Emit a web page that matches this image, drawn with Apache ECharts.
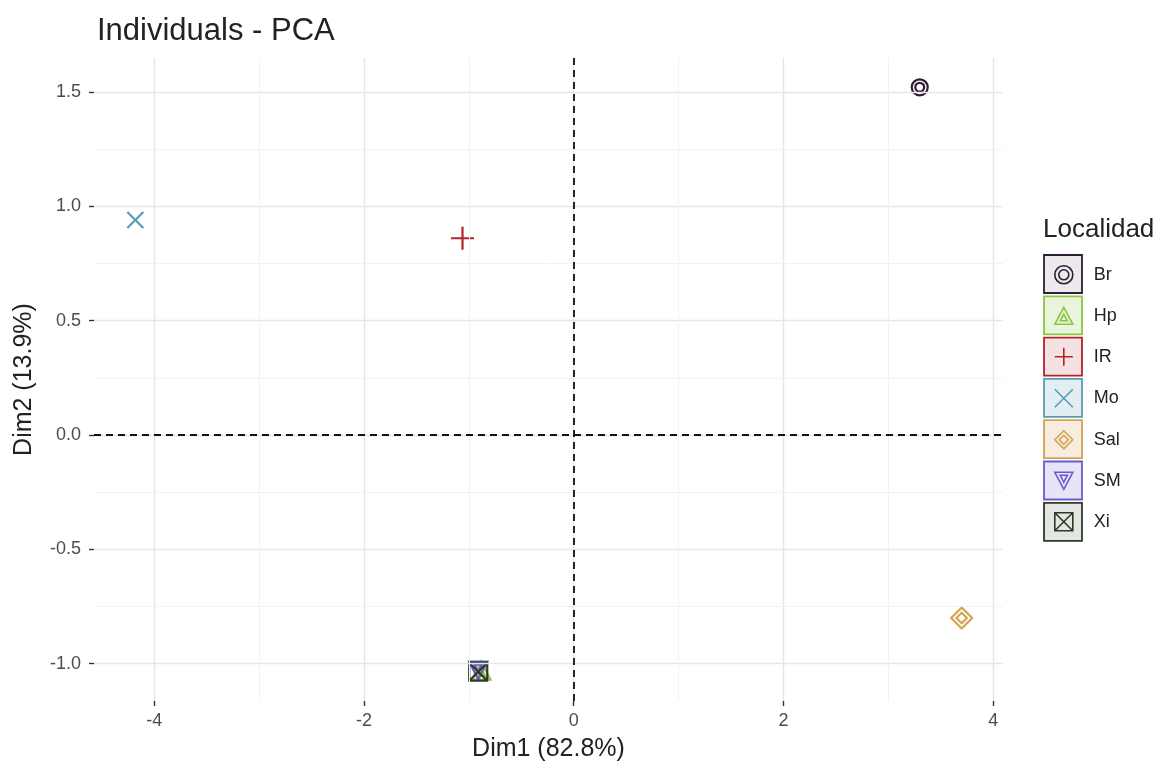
<!DOCTYPE html>
<html>
<head>
<meta charset="utf-8">
<script src="https://cdn.jsdelivr.net/npm/echarts@6/dist/echarts.min.js"></script>
<style>html,body{margin:0;padding:0;background:#fff}#c{width:1160px;height:768px}</style>
</head>
<body>
<div id="c"></div>
<script>
// ---- data ----
const categories = ['Br', 'Hp', 'IR', 'Mo', 'Sal', 'SM', 'Xi'];
const dim1 = [3.30, -0.88, -1.06, -4.18, 3.70, -0.91, -0.91];
const dim2 = [1.52, -1.03, 0.86, 0.94, -0.80, -1.03, -1.035];
const colors = ['#2e1d35', '#8cc63f', '#b5232a', '#5a9bb6', '#d3a452', '#6a5acd', '#2f3a26'];
const tints = ['#ece8ec', '#e8f4dc', '#f4e1e1', '#e3eef3', '#f6ecdf', '#e6e4f6', '#e4e6e2'];
const xTicks = [-4, -2, 0, 2, 4];
const yTicks = [-1.0, -0.5, 0.0, 0.5, 1.0, 1.5];
const xMinor = [-3, -1, 1, 3];
const yMinor = [-0.75, -0.25, 0.25, 0.75, 1.25];
const xRange = [-4.574, 4.094];
const yRange = [-1.163, 1.648];

// ---- symbols ----
const shapes = {
  Br: 'path://M10,1 A9,9 0 1,1 9.99,1 Z M10,5 A5,5 0 1,1 9.99,5 Z',
  Hp: 'path://M10,1 L19,18 L1,18 Z M10,8 L13.5,14.5 L6.5,14.5 Z',
  IR: 'path://M10,0 L10,20 M0,10 L20,10',
  Mo: 'path://M2,2 L18,18 M18,2 L2,18',
  Sal: 'path://M10,0 L20,10 L10,20 L0,10 Z M10,5 L15,10 L10,15 L5,10 Z',
  SM: 'path://M1,2 L19,2 L10,19 Z M6.5,5 L13.5,5 L10,12 Z',
  Xi: 'path://M1,1 L19,1 L19,19 L1,19 Z M1,1 L19,19 M19,1 L1,19'
};
const sizes = {Br: 16, Hp: 18, IR: 23, Mo: 16, Sal: 21, SM: 18, Xi: 18};

const font = '"Liberation Sans", Arial, Helvetica, sans-serif';
const chart = echarts.init(document.getElementById('c'), null, {renderer: 'canvas'});

const gridLines = [];
xTicks.forEach(v => gridLines.push({xAxis: v, lineStyle: {color: '#e6e6e6', width: 1.4, type: 'solid'}}));
yTicks.forEach(v => gridLines.push({yAxis: v, lineStyle: {color: '#e6e6e6', width: 1.4, type: 'solid'}}));
xMinor.forEach(v => gridLines.push({xAxis: v, lineStyle: {color: '#f2f2f2', width: 1, type: 'solid'}}));
yMinor.forEach(v => gridLines.push({yAxis: v, lineStyle: {color: '#f2f2f2', width: 1, type: 'solid'}}));

const series = [{
  type: 'line', data: [], silent: true, z: 1, animation: false,
  markLine: {silent: true, symbol: 'none', label: {show: false}, animation: false, data: gridLines}
}, {
  type: 'line', data: [], silent: true, z: 2, animation: false,
  markLine: {silent: true, symbol: 'none', label: {show: false}, animation: false,
    lineStyle: {color: '#111', width: 1.8, type: [7, 5]},
    data: [{xAxis: 0}, {yAxis: 0}]}
}];
categories.forEach((c, i) => {
  series.push({
    name: c, type: 'scatter', z: 3, animation: false,
    symbol: shapes[c], symbolSize: sizes[c],
    itemStyle: {color: 'rgba(0,0,0,0)', borderColor: colors[i], borderWidth: 2.2, opacity: 1},
    data: [[dim1[i], dim2[i]]]
  });
});

// legend key boxes + title as graphic elements built from categories
const graphics = [{
  type: 'text', x: 1043, y: 217, z: 10,
  style: {text: 'Localidad', font: '26px ' + font, fill: '#222'}
}];
categories.forEach((c, i) => {
  const y = 255 + i * 41.3;
  graphics.push({
    type: 'rect', z: 1, shape: {x: 1044, y: y, width: 38, height: 38},
    style: {fill: tints[i], stroke: colors[i], lineWidth: 1.8}
  });
});

chart.setOption({
  animation: false,
  backgroundColor: '#fff',
  title: {
    text: 'Individuals - PCA', left: 92, top: 11,
    textStyle: {fontFamily: font, fontSize: 31, fontWeight: 'normal', color: '#222'}
  },
  legend: {
    orient: 'vertical', left: 1054, top: 265, z: 20, padding: 0,
    itemWidth: 18, itemHeight: 18, itemGap: 21.9,
    selectedMode: false,
    data: categories.map((c, i) => ({name: c, icon: shapes[c],
      itemStyle: {color: 'rgba(0,0,0,0)', borderColor: colors[i], borderWidth: 1.6}})),
    textStyle: {fontFamily: font, fontSize: 18, color: '#222', lineHeight: 18, padding: [0, 0, 0, 16]}
  },
  grid: {left: 94, right: 157, top: 58, bottom: 67, containLabel: false},
  xAxis: {
    type: 'value', min: xRange[0], max: xRange[1],
    name: 'Dim1 (82.8%)', nameLocation: 'middle', nameGap: 36,
    nameTextStyle: {fontFamily: font, fontSize: 25, color: '#222'},
    axisLine: {show: true, onZero: false, lineStyle: {color: 'rgba(0,0,0,0)'}},
    axisTick: {show: true, customValues: xTicks, length: 5, lineStyle: {color: '#333', width: 1.4}},
    axisLabel: {customValues: xTicks, fontFamily: font, fontSize: 18, color: '#4d4d4d', margin: 11,
      formatter: v => String(Math.round(v))},
    splitLine: {show: false}
  },
  yAxis: {
    type: 'value', min: yRange[0], max: yRange[1],
    name: 'Dim2 (13.9%)', nameLocation: 'middle', nameGap: 57, nameRotate: 90,
    nameTextStyle: {fontFamily: font, fontSize: 25, color: '#222'},
    axisLine: {show: true, onZero: false, lineStyle: {color: 'rgba(0,0,0,0)'}},
    axisTick: {show: true, customValues: yTicks, length: 5, lineStyle: {color: '#333', width: 1.4}},
    axisLabel: {customValues: yTicks, fontFamily: font, fontSize: 18, color: '#4d4d4d', margin: 13,
      formatter: v => (Math.abs(v) < 1e-9 ? 0 : v).toFixed(1)},
    splitLine: {show: false}
  },
  graphic: graphics,
  series: series
});
</script>
</body>
</html>
